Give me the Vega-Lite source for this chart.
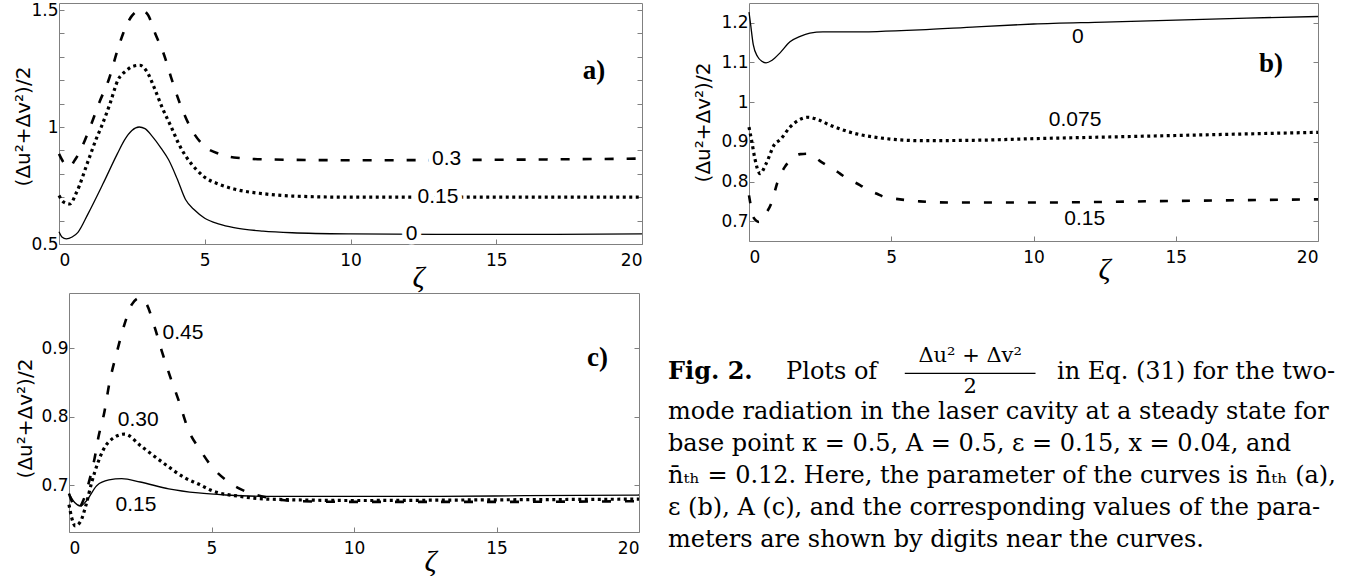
{
  "$schema": "https://vega.github.io/schema/vega-lite/v6.json",
  "background": "white",
  "padding": {"left": 12, "top": 0, "right": 0, "bottom": 0},
  "config": {
    "view": {"stroke": "#808080", "strokeWidth": 1},
    "axis": {"domain": false, "domainColor": "#808080", "domainWidth": 1, "grid": false, "tickColor": "#808080", "tickSize": -5, "tickWidth": 1,
      "labelFont": "DejaVu Sans", "labelFontSize": 17, "labelColor": "black", "labelPadding": 6,
      "titleColor": "black", "titleFontWeight": "normal"},
    "axisX": {"labelPadding": 13},
    "text": {"color": "black"},
    "line": {"color": "black", "interpolate": "monotone", "strokeCap": "butt"}
  },
  "datasets": {
    "a": [
      {"c":"0","z":0,"v":0.552},{"c":"0","z":0.1,"v":0.53},{"c":"0","z":0.25,"v":0.522},{"c":"0","z":0.45,"v":0.53},{"c":"0","z":0.65,"v":0.55},{"c":"0","z":1,"v":0.63},{"c":"0","z":1.5,"v":0.755},{"c":"0","z":2,"v":0.885},{"c":"0","z":2.25,"v":0.945},{"c":"0","z":2.5,"v":0.985},{"c":"0","z":2.75,"v":1.0},{"c":"0","z":2.95,"v":0.993},{"c":"0","z":3.2,"v":0.96},{"c":"0","z":3.5,"v":0.91},{"c":"0","z":3.76,"v":0.86},{"c":"0","z":4.05,"v":0.78},{"c":"0","z":4.34,"v":0.69},{"c":"0","z":4.65,"v":0.645},{"c":"0","z":5,"v":0.61},{"c":"0","z":5.5,"v":0.585},{"c":"0","z":6,"v":0.57},{"c":"0","z":7,"v":0.555},{"c":"0","z":8,"v":0.548},{"c":"0","z":10,"v":0.543},{"c":"0","z":13,"v":0.541},{"c":"0","z":16,"v":0.541},{"c":"0","z":20,"v":0.543},
      {"c":"0.15","z":0,"v":0.707},{"c":"0.15","z":0.15,"v":0.68},{"c":"0.15","z":0.37,"v":0.671},{"c":"0.15","z":0.6,"v":0.72},{"c":"0.15","z":1,"v":0.855},{"c":"0.15","z":1.28,"v":0.95},{"c":"0.15","z":1.45,"v":1.0},{"c":"0.15","z":1.75,"v":1.1},{"c":"0.15","z":2.02,"v":1.2},{"c":"0.15","z":2.3,"v":1.24},{"c":"0.15","z":2.55,"v":1.26},{"c":"0.15","z":2.77,"v":1.264},{"c":"0.15","z":3.0,"v":1.24},{"c":"0.15","z":3.28,"v":1.164},{"c":"0.15","z":3.55,"v":1.08},{"c":"0.15","z":3.85,"v":1.0},{"c":"0.15","z":4.1,"v":0.93},{"c":"0.15","z":4.35,"v":0.875},{"c":"0.15","z":4.7,"v":0.82},{"c":"0.15","z":5,"v":0.785},{"c":"0.15","z":5.5,"v":0.755},{"c":"0.15","z":6,"v":0.735},{"c":"0.15","z":7,"v":0.715},{"c":"0.15","z":8,"v":0.705},{"c":"0.15","z":10,"v":0.7},{"c":"0.15","z":15,"v":0.7},{"c":"0.15","z":20,"v":0.7},
      {"c":"0.3","z":0,"v":0.885},{"c":"0.3","z":0.15,"v":0.85},{"c":"0.3","z":0.35,"v":0.83},{"c":"0.3","z":0.55,"v":0.86},{"c":"0.3","z":0.76,"v":0.907},{"c":"0.3","z":1.1,"v":1.01},{"c":"0.3","z":1.4,"v":1.11},{"c":"0.3","z":1.7,"v":1.2},{"c":"0.3","z":2.0,"v":1.325},{"c":"0.3","z":2.2,"v":1.4},{"c":"0.3","z":2.5,"v":1.475},{"c":"0.3","z":2.82,"v":1.5},{"c":"0.3","z":3.05,"v":1.48},{"c":"0.3","z":3.3,"v":1.4},{"c":"0.3","z":3.6,"v":1.31},{"c":"0.3","z":3.85,"v":1.21},{"c":"0.3","z":4.15,"v":1.1},{"c":"0.3","z":4.5,"v":1.0},{"c":"0.3","z":4.97,"v":0.92},{"c":"0.3","z":5.5,"v":0.885},{"c":"0.3","z":6,"v":0.87},{"c":"0.3","z":7,"v":0.862},{"c":"0.3","z":10,"v":0.858},{"c":"0.3","z":15,"v":0.86},{"c":"0.3","z":20,"v":0.865}
    ],
    "b": [
      {"c":"0","z":0,"v":1.227},{"c":"0","z":0.05,"v":1.2},{"c":"0","z":0.15,"v":1.145},{"c":"0","z":0.3,"v":1.115},{"c":"0","z":0.45,"v":1.103},{"c":"0","z":0.6,"v":1.099},{"c":"0","z":0.8,"v":1.105},{"c":"0","z":1.1,"v":1.125},{"c":"0","z":1.44,"v":1.152},{"c":"0","z":1.8,"v":1.166},{"c":"0","z":2.14,"v":1.174},{"c":"0","z":2.6,"v":1.177},{"c":"0","z":3.5,"v":1.177},{"c":"0","z":4.5,"v":1.178},{"c":"0","z":6,"v":1.182},{"c":"0","z":8,"v":1.19},{"c":"0","z":10,"v":1.197},{"c":"0","z":12.5,"v":1.202},{"c":"0","z":15,"v":1.207},{"c":"0","z":17.5,"v":1.212},{"c":"0","z":20,"v":1.216},
      {"c":"0.075","z":0,"v":0.937},{"c":"0.075","z":0.1,"v":0.9},{"c":"0.075","z":0.2,"v":0.86},{"c":"0.075","z":0.39,"v":0.82},{"c":"0.075","z":0.6,"v":0.845},{"c":"0.075","z":0.91,"v":0.895},{"c":"0.075","z":1.09,"v":0.905},{"c":"0.075","z":1.44,"v":0.937},{"c":"0.075","z":1.75,"v":0.955},{"c":"0.075","z":2.08,"v":0.962},{"c":"0.075","z":2.45,"v":0.955},{"c":"0.075","z":2.85,"v":0.942},{"c":"0.075","z":3.3,"v":0.93},{"c":"0.075","z":3.78,"v":0.92},{"c":"0.075","z":4.4,"v":0.912},{"c":"0.075","z":4.96,"v":0.907},{"c":"0.075","z":6,"v":0.903},{"c":"0.075","z":8,"v":0.904},{"c":"0.075","z":10,"v":0.908},{"c":"0.075","z":12.5,"v":0.912},{"c":"0.075","z":15,"v":0.916},{"c":"0.075","z":17.5,"v":0.92},{"c":"0.075","z":20,"v":0.924},
      {"c":"0.15","z":0,"v":0.765},{"c":"0.15","z":0.05,"v":0.744},{"c":"0.15","z":0.15,"v":0.71},{"c":"0.15","z":0.35,"v":0.698},{"c":"0.15","z":0.55,"v":0.715},{"c":"0.15","z":0.8,"v":0.748},{"c":"0.15","z":1.0,"v":0.798},{"c":"0.15","z":1.26,"v":0.837},{"c":"0.15","z":1.44,"v":0.853},{"c":"0.15","z":1.8,"v":0.869},{"c":"0.15","z":2.1,"v":0.87},{"c":"0.15","z":2.55,"v":0.849},{"c":"0.15","z":2.73,"v":0.841},{"c":"0.15","z":3.2,"v":0.82},{"c":"0.15","z":3.37,"v":0.811},{"c":"0.15","z":3.9,"v":0.791},{"c":"0.15","z":4.1,"v":0.782},{"c":"0.15","z":4.5,"v":0.769},{"c":"0.15","z":4.75,"v":0.761},{"c":"0.15","z":5,"v":0.758},{"c":"0.15","z":6,"v":0.75},{"c":"0.15","z":7,"v":0.747},{"c":"0.15","z":10,"v":0.747},{"c":"0.15","z":15,"v":0.751},{"c":"0.15","z":20,"v":0.755}
    ],
    "c": [
      {"c":"0.15","z":0,"v":0.688},{"c":"0.15","z":0.2,"v":0.675},{"c":"0.15","z":0.4,"v":0.67},{"c":"0.15","z":0.6,"v":0.677},{"c":"0.15","z":0.98,"v":0.7},{"c":"0.15","z":1.4,"v":0.708},{"c":"0.15","z":1.85,"v":0.71},{"c":"0.15","z":2.5,"v":0.705},{"c":"0.15","z":3.5,"v":0.695},{"c":"0.15","z":4.54,"v":0.689},{"c":"0.15","z":5.5,"v":0.686},{"c":"0.15","z":7,"v":0.684},{"c":"0.15","z":10,"v":0.684},{"c":"0.15","z":13,"v":0.684},{"c":"0.15","z":16,"v":0.685},{"c":"0.15","z":20,"v":0.686},
      {"c":"0.30","z":0,"v":0.672},{"c":"0.30","z":0.1,"v":0.652},{"c":"0.30","z":0.22,"v":0.641},{"c":"0.30","z":0.4,"v":0.647},{"c":"0.30","z":0.6,"v":0.672},{"c":"0.30","z":0.8,"v":0.705},{"c":"0.30","z":1.03,"v":0.735},{"c":"0.30","z":1.38,"v":0.763},{"c":"0.30","z":1.95,"v":0.775},{"c":"0.30","z":2.54,"v":0.757},{"c":"0.30","z":3.37,"v":0.731},{"c":"0.30","z":4.07,"v":0.711},{"c":"0.30","z":4.54,"v":0.702},{"c":"0.30","z":5.04,"v":0.692},{"c":"0.30","z":6,"v":0.684},{"c":"0.30","z":7,"v":0.68},{"c":"0.30","z":10,"v":0.678},{"c":"0.30","z":15,"v":0.679},{"c":"0.30","z":20,"v":0.68},
      {"c":"0.45","z":0,"v":0.688},{"c":"0.45","z":0.15,"v":0.672},{"c":"0.45","z":0.3,"v":0.665},{"c":"0.45","z":0.5,"v":0.678},{"c":"0.45","z":0.68,"v":0.702},{"c":"0.45","z":0.9,"v":0.74},{"c":"0.45","z":1.03,"v":0.77},{"c":"0.45","z":1.24,"v":0.807},{"c":"0.45","z":1.42,"v":0.85},{"c":"0.45","z":1.67,"v":0.893},{"c":"0.45","z":1.96,"v":0.937},{"c":"0.45","z":2.2,"v":0.964},{"c":"0.45","z":2.49,"v":0.974},{"c":"0.45","z":2.72,"v":0.965},{"c":"0.45","z":3.0,"v":0.932},{"c":"0.45","z":3.25,"v":0.897},{"c":"0.45","z":3.54,"v":0.86},{"c":"0.45","z":3.84,"v":0.825},{"c":"0.45","z":4.2,"v":0.78},{"c":"0.45","z":4.6,"v":0.752},{"c":"0.45","z":5.0,"v":0.728},{"c":"0.45","z":5.5,"v":0.708},{"c":"0.45","z":6.0,"v":0.695},{"c":"0.45","z":7,"v":0.682},{"c":"0.45","z":8,"v":0.677},{"c":"0.45","z":10,"v":0.676},{"c":"0.45","z":15,"v":0.676},{"c":"0.45","z":20,"v":0.677}
    ],
    "labels": [
      {"p":"a","k":"curve","t":"0.3","z":13.3,"v":0.862},
      {"p":"a","k":"curve","t":"0.15","z":13.0,"v":0.7},
      {"p":"a","k":"curve","t":"0","z":12.1,"v":0.542},
      {"p":"a","k":"panel","t":"a)","z":18.35,"v":1.24},
      {"p":"b","k":"curve","t":"0","z":11.56,"v":1.164},
      {"p":"b","k":"curve","t":"0.075","z":11.46,"v":0.955},
      {"p":"b","k":"curve","t":"0.15","z":11.8,"v":0.706},
      {"p":"b","k":"panel","t":"b)","z":18.35,"v":1.096},
      {"p":"c","k":"curve","t":"0.45","z":4.0,"v":0.922},
      {"p":"c","k":"curve","t":"0.30","z":2.43,"v":0.795},
      {"p":"c","k":"curve","t":"0.15","z":2.35,"v":0.671},
      {"p":"c","k":"panel","t":"c)","z":18.54,"v":0.886}
    ],
    "cap": [
      {"k":"bold","line":0.75,"pos":0,"t":"Fig. 2."},
      {"k":"left","line":0.75,"pos":0.177,"t":"Plots of"},
      {"k":"center","line":0.24,"pos":0.453,"t":"Δu² + Δv²"},
      {"k":"center","line":1.22,"pos":0.453,"t":"2"},
      {"k":"right","line":0.75,"pos":1,"t":"in Eq. (31) for the two-"},
      {"k":"left","line":2,"pos":0,"t":"mode radiation in the laser cavity at a steady state for"},
      {"k":"left","line":3,"pos":0,"t":"base point κ = 0.5, A = 0.5, ε = 0.15, x = 0.04, and"},
      {"k":"left","line":4,"pos":0,"t":"n̄ₜₕ = 0.12. Here, the parameter of the curves is n̄ₜₕ (a),"},
      {"k":"left","line":5,"pos":0,"t":"ε (b), A (c), and the corresponding values of the para-"},
      {"k":"left","line":6,"pos":0,"t":"meters are shown by digits near the curves."},
      {"k":"bar","line":0.79,"pos":0.355,"pos2":0.551,"t":""}
    ]
  },
  "spacing": -3,
  "vconcat": [
    {
      "spacing": 43,
      "hconcat": [
        {
          "width": 583, "height": 241,
          "data": {"name": "a"},
          "resolve": {"axis": {"x": "independent", "y": "independent"}},
          "encoding": {
            "x": {"field": "z", "type": "quantitative", "scale": {"domain": [0, 20], "nice": false, "zero": false}, "axis": null},
            "y": {"field": "v", "type": "quantitative", "scale": {"domain": [0.5, 1.53], "nice": false, "zero": false}, "axis": null}
          },
          "layer": [
            {
              "transform": [{"filter": "datum.c == '0'"}],
              "mark": {"type": "line", "strokeWidth": 1.3},
              "encoding": {
                "x": {"field": "z", "type": "quantitative",
                  "axis": {"values": [0,5,10,15,20], "title": "ζ", "titleFont": "Liberation Serif", "titleFontStyle": "italic", "titleFontSize": 30, "titleX": 359, "titleY": 33, "titleBaseline": "middle", "titleAlign": "center"}},
                "y": {"field": "v", "type": "quantitative",
                  "axis": {"values": [0.5,0.6,0.7,0.8,0.9,1,1.1,1.2,1.3,1.4,1.5], "format": "~g", "labelExpr": "datum.value == 0.5 || datum.value == 1 || datum.value == 1.5 ? datum.label : ''", "title": "(Δu²+Δv²)/2", "titleFont": "DejaVu Sans", "titleFontSize": 20, "titleX": -36, "titleY": 123, "titleBaseline": "middle", "titleAlign": "center"}}
              }
            },
            {"transform": [{"filter": "datum.c == '0.15'"}], "mark": {"type": "line", "strokeWidth": 3.2, "strokeDash": [3, 3.5]}},
            {"transform": [{"filter": "datum.c == '0.3'"}], "mark": {"type": "line", "strokeWidth": 2.6, "strokeDash": [9, 13]}},
            {
              "data": {"name": "labels"},
              "transform": [{"filter": "datum.p == 'a' && datum.k == 'curve'"}],
              "mark": {"type": "text", "font": "Liberation Sans", "fontSize": 21, "baseline": "middle", "align": "center", "stroke": "white", "strokeWidth": 9, "strokeJoin": "round", "fill": "white"},
              "encoding": {"text": {"field": "t"}}
            },
            {
              "data": {"name": "labels"},
              "transform": [{"filter": "datum.p == 'a' && datum.k == 'curve'"}],
              "mark": {"type": "text", "font": "Liberation Sans", "fontSize": 21, "baseline": "middle", "align": "center"},
              "encoding": {
                "y": {"field": "v", "type": "quantitative", "axis": {"orient": "right", "labels": false, "title": null, "values": [0.5,0.6,0.7,0.8,0.9,1,1.1,1.2,1.3,1.4,1.5]}},
                "text": {"field": "t"}
              }
            },
            {
              "data": {"name": "labels"},
              "transform": [{"filter": "datum.p == 'a' && datum.k == 'panel'"}],
              "mark": {"type": "text", "font": "Liberation Serif", "fontWeight": "bold", "fontSize": 27, "baseline": "middle", "align": "center"},
              "encoding": {"text": {"field": "t"}}
            }
          ]
        },
        {
          "width": 569, "height": 238,
          "data": {"name": "b"},
          "resolve": {"axis": {"x": "independent", "y": "independent"}},
          "encoding": {
            "x": {"field": "z", "type": "quantitative", "scale": {"domain": [0, 20], "nice": false, "zero": false}, "axis": null},
            "y": {"field": "v", "type": "quantitative", "scale": {"domain": [0.65, 1.25], "nice": false, "zero": false}, "axis": null}
          },
          "layer": [
            {
              "transform": [{"filter": "datum.c == '0'"}],
              "mark": {"type": "line", "strokeWidth": 1.3},
              "encoding": {
                "x": {"field": "z", "type": "quantitative",
                  "axis": {"values": [0,5,10,15,20], "title": "ζ", "titleFont": "Liberation Serif", "titleFontStyle": "italic", "titleFontSize": 30, "titleX": 355, "titleY": 28, "titleBaseline": "middle", "titleAlign": "center"}},
                "y": {"field": "v", "type": "quantitative",
                  "axis": {"values": [0.7,0.8,0.9,1,1.1,1.2], "format": "~g", "title": "(Δu²+Δv²)/2", "titleFont": "DejaVu Sans", "titleFontSize": 20, "titleX": -46, "titleY": 119, "titleBaseline": "middle", "titleAlign": "center"}}
              }
            },
            {"transform": [{"filter": "datum.c == '0.075'"}], "mark": {"type": "line", "strokeWidth": 3.2, "strokeDash": [3, 3.5]}},
            {"transform": [{"filter": "datum.c == '0.15'"}], "mark": {"type": "line", "strokeWidth": 2.6, "strokeDash": [8, 14]}},
            {
              "data": {"name": "labels"},
              "transform": [{"filter": "datum.p == 'b' && datum.k == 'curve'"}],
              "mark": {"type": "text", "font": "Liberation Sans", "fontSize": 21, "baseline": "middle", "align": "center"},
              "encoding": {
                "y": {"field": "v", "type": "quantitative", "axis": {"orient": "right", "labels": false, "title": null, "values": [0.7,0.8,0.9,1,1.1,1.2]}},
                "text": {"field": "t"}
              }
            },
            {
              "data": {"name": "labels"},
              "transform": [{"filter": "datum.p == 'b' && datum.k == 'panel'"}],
              "mark": {"type": "text", "font": "Liberation Serif", "fontWeight": "bold", "fontSize": 27, "baseline": "middle", "align": "center"},
              "encoding": {"text": {"field": "t"}}
            }
          ]
        }
      ]
    },
    {
      "spacing": 22,
      "hconcat": [
        {
          "width": 580, "height": 239,
          "view": {"stroke": null},
          "data": {"name": "c"},
          "resolve": {"axis": {"x": "independent", "y": "independent"}},
          "encoding": {
            "x": {"field": "z", "type": "quantitative", "scale": {"domain": [0, 20], "range": [10, 580], "nice": false, "zero": false}, "axis": null},
            "y": {"field": "v", "type": "quantitative", "scale": {"domain": [0.632, 0.981], "nice": false, "zero": false}, "axis": null}
          },
          "layer": [
            {
              "transform": [{"filter": "datum.c == '0.15'"}],
              "mark": {"type": "line", "strokeWidth": 1.3},
              "encoding": {
                "x": {"field": "z", "type": "quantitative",
                  "axis": {"domain": true, "values": [0,5,10,15,20], "title": "ζ", "titleFont": "Liberation Serif", "titleFontStyle": "italic", "titleFontSize": 30, "titleX": 371, "titleY": 29, "titleBaseline": "middle", "titleAlign": "center"}},
                "y": {"field": "v", "type": "quantitative",
                  "axis": {"domain": true, "offset": -10, "values": [0.7,0.8,0.9], "format": "~g", "title": "(Δu²+Δv²)/2", "titleFont": "DejaVu Sans", "titleFontSize": 20, "titleX": -44, "titleY": 125, "titleBaseline": "middle", "titleAlign": "center"}}
              }
            },
            {
              "transform": [{"filter": "datum.c == '0.30'"}],
              "mark": {"type": "line", "strokeWidth": 3.2, "strokeDash": [3, 3.5]},
              "encoding": {
                "x": {"field": "z", "type": "quantitative", "axis": {"orient": "top", "domain": true, "labels": false, "ticks": false, "title": null}}
              }
            },
            {"transform": [{"filter": "datum.c == '0.45'"}], "mark": {"type": "line", "strokeWidth": 2.6, "strokeDash": [9, 14]}},
            {
              "data": {"name": "labels"},
              "transform": [{"filter": "datum.p == 'c' && datum.k == 'curve'"}],
              "mark": {"type": "text", "font": "Liberation Sans", "fontSize": 21, "baseline": "middle", "align": "center"},
              "encoding": {
                "y": {"field": "v", "type": "quantitative", "axis": {"orient": "right", "domain": true, "labels": false, "title": null, "values": [0.7,0.8,0.9]}},
                "text": {"field": "t"}
              }
            },
            {
              "data": {"name": "labels"},
              "transform": [{"filter": "datum.p == 'c' && datum.k == 'panel'"}],
              "mark": {"type": "text", "font": "Liberation Serif", "fontWeight": "bold", "fontSize": 27, "baseline": "middle", "align": "center"},
              "encoding": {"text": {"field": "t"}}
            }
          ]
        },
        {
          "width": 667, "height": 239,
          "view": {"stroke": null},
          "data": {"name": "cap"},
          "encoding": {
            "x": {"field": "pos", "type": "quantitative", "scale": {"domain": [0, 1], "nice": false, "zero": false}, "axis": null},
            "y": {"field": "line", "type": "quantitative", "scale": {"domain": [-1.72, 5.75], "nice": false, "zero": false, "reverse": true}, "axis": null}
          },
          "layer": [
            {
              "transform": [{"filter": "datum.k == 'left'"}],
              "mark": {"type": "text", "font": "DejaVu Serif", "fontSize": 24, "align": "left", "baseline": "middle"},
              "encoding": {"text": {"field": "t"}}
            },
            {
              "transform": [{"filter": "datum.k == 'bold'"}],
              "mark": {"type": "text", "font": "DejaVu Serif", "fontWeight": "bold", "fontSize": 24, "align": "left", "baseline": "middle"},
              "encoding": {"text": {"field": "t"}}
            },
            {
              "transform": [{"filter": "datum.k == 'center'"}],
              "mark": {"type": "text", "font": "DejaVu Serif", "fontSize": 21, "align": "center", "baseline": "middle"},
              "encoding": {"text": {"field": "t"}}
            },
            {
              "transform": [{"filter": "datum.k == 'right'"}],
              "mark": {"type": "text", "font": "DejaVu Serif", "fontSize": 24, "align": "right", "baseline": "middle"},
              "encoding": {"text": {"field": "t"}}
            },
            {
              "transform": [{"filter": "datum.k == 'bar'"}],
              "mark": {"type": "rule", "color": "black", "strokeWidth": 1.3},
              "encoding": {"x2": {"field": "pos2"}}
            }
          ]
        }
      ]
    }
  ]
}
